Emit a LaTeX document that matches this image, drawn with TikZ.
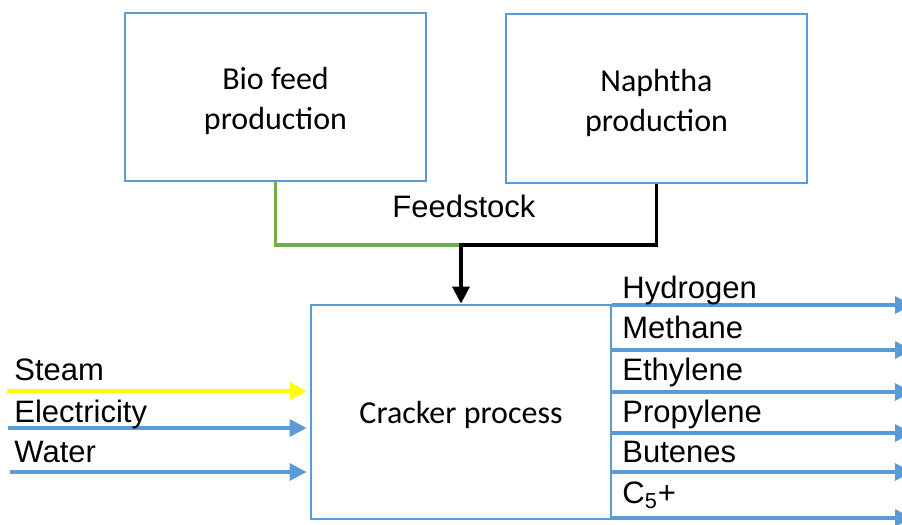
\documentclass[tikz,border=0pt]{standalone}
\usepackage{fontspec}
\setmainfont{Liberation Sans}
\newfontfamily\boxfont{Carlito}
\usetikzlibrary{arrows.meta}
\definecolor{lineblue}{HTML}{5B9BD5}
\definecolor{biogreen}{HTML}{70AD47}
\definecolor{steamyellow}{HTML}{FFFF00}
\tikzset{
  procbox/.style={draw=lineblue, line width=1.4pt, fill=white, inner sep=0pt},
  boxtext/.style={align=center, inner sep=0pt, font=\boxfont\fontsize{16}{20}\selectfont},
  flow/.style={line width=1.7pt},
  flowarrow/.style={flow, -{Triangle[length=8.5pt,width=8.5pt]}},
  lbl/.style={anchor=base west, inner sep=0pt, font=\fontsize{15.5}{18}\selectfont}
}
\begin{document}
\begin{tikzpicture}[x=0.5pt, y=-0.5pt]
\useasboundingbox (0,0) rectangle (902,525);

% process boxes
\node[procbox, minimum width=150.5pt, minimum height=84pt] (bio) at (275.5,97) {};
\node[procbox, minimum width=150.5pt, minimum height=84.5pt] (naph) at (656.5,98.5) {};
\node[procbox, minimum width=150pt, minimum height=107pt] (crack) at (461,412) {};
\node[boxtext] (biotxt) at ([yshift=-2pt]bio.center) {Bio feed\\production};
\node[boxtext] (naphtxt) at ([yshift=-2pt]naph.center) {Naphtha\\production};
\node[boxtext] (cracktxt) at ([yshift=-1.5pt]crack.center) {Cracker process};

% feedstock merge
\coordinate (join) at (461,245);
\draw[flow, biogreen] (bio.south) |- (join);
\draw[flowarrow, black] (naph.south) |- (join) -- (crack.north);
\node[lbl] (feed) at (392,217) {Feedstock};

% utilities into the cracker
\coordinate (sIn) at (7,391);
\coordinate (eIn) at (8,428);
\coordinate (wIn) at (10,472);
\draw[flowarrow, steamyellow] (sIn) -- ([xshift=-1.5pt]crack.west |- sIn);
\draw[flowarrow, lineblue] (eIn) -- ([xshift=-1.5pt]crack.west |- eIn);
\draw[flowarrow, lineblue] (wIn) -- ([xshift=-1.5pt]crack.west |- wIn);
\node[lbl] (steam) at (14,380) {Steam};
\node[lbl] (elec) at (14,422) {Electricity};
\node[lbl] (water) at (14,462) {Water};

% products out of the cracker
\foreach \y/\n in {305/h2,350/ch4,392/c2,433/c3,472/c4,518/c5} {
  \coordinate (\n out) at (912,\y);
  \draw[flowarrow, lineblue] (crack.east |- \n out) -- (\n out);
}
\node[lbl] (hyd) at (622,298) {Hydrogen};
\node[lbl] (meth) at (622,338) {Methane};
\node[lbl] (eth) at (622,380) {Ethylene};
\node[lbl] (prop) at (622,422) {Propylene};
\node[lbl] (but) at (622,462) {Butenes};
\node[lbl] (cfive) at (622,503) {C\textsubscript{5}+};
\end{tikzpicture}
\end{document}
